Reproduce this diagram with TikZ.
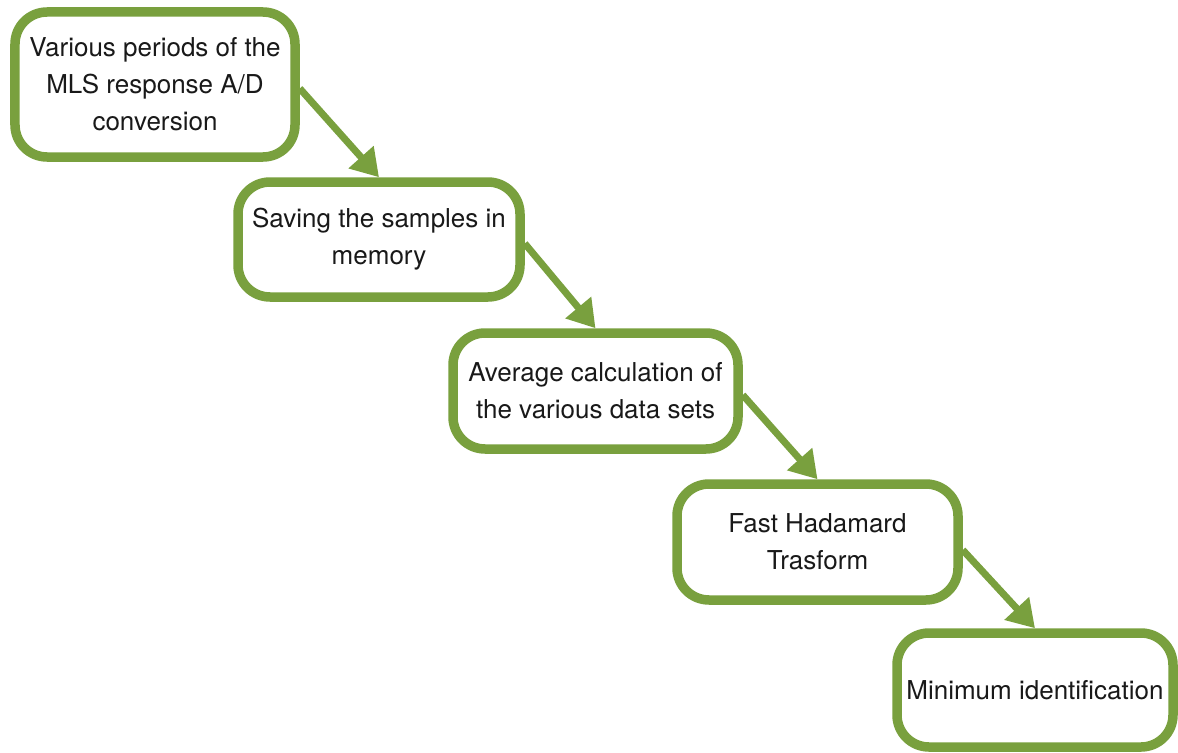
\documentclass[tikz,border=0pt]{standalone}
\usepackage{fontspec}
\setmainfont{TeX Gyre Heros}
\usetikzlibrary{arrows.meta}
\definecolor{boxgreen}{RGB}{121,160,62}
\definecolor{txt}{RGB}{25,25,25}
\begin{document}
\begin{tikzpicture}[x=1bp,y=-1bp,
  stepbox/.style={draw=boxgreen, line width=9.5bp, rounded corners=32bp, fill=white,
    inner sep=0pt, align=center, text=txt,
    font=\fontsize{26bp}{37bp}\selectfont},
  flow/.style={draw=boxgreen, line width=7bp,
    -{Triangle[length=27bp,width=32bp]}}]
\useasboundingbox[fill=white] (0,0) rectangle (1178,753);
\node[stepbox, minimum width=280bp, minimum height=145bp] (a) at (155,84.5)
  {Various periods of the\\MLS response A/D\\conversion};
\node[stepbox, minimum width=282bp, minimum height=115bp] (b) at (379,239.5)
  {Saving the samples in\\memory};
\node[stepbox, minimum width=285bp, minimum height=116bp] (c) at (595.5,391)
  {Average calculation of\\the various data sets};
\node[stepbox, minimum width=281bp, minimum height=116bp] (d) at (817.5,542)
  {Fast Hadamard\\Trasform};
\node[stepbox, minimum width=276bp, minimum height=114bp] (e) at (1035,690)
  {Minimum identification};
\draw[flow] ([yshift=-4bp]a.east) -- (b.north);
\draw[flow] ([yshift=-4bp]b.east) -- (c.north);
\draw[flow] ([yshift=-4bp]c.east) -- (d.north);
\draw[flow] ([yshift=-8bp]d.east) -- (e.north);
\end{tikzpicture}
\end{document}
